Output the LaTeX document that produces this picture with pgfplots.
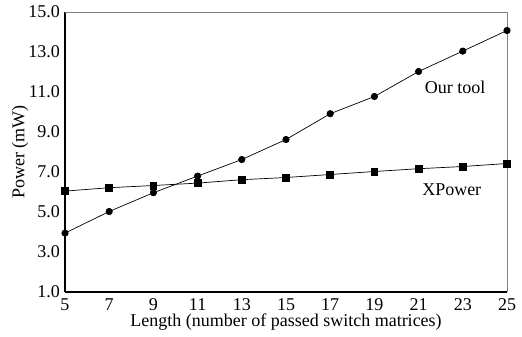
\documentclass[border=0pt]{standalone}
\usepackage{fontspec}
\setmainfont{Liberation Serif}
\usepackage{pgfplots}
\pgfplotsset{compat=1.18}
\begin{document}
\fontsize{18}{20}\selectfont
\begin{tikzpicture}
\begin{axis}[
  scale only axis,
  width=442pt, height=280pt,
  xmin=5, xmax=25, ymin=1, ymax=15,
  xtick={5,7,...,25}, ytick={1,3,...,15},
  major tick length=0pt,
  axis lines*=left,
  separate axis lines,
  axis line style={black, line width=1.4pt, -},
  /pgf/number format/assume math mode=true,
  yticklabel style={xshift=1pt, /pgf/number format/fixed, /pgf/number format/fixed zerofill, /pgf/number format/precision=1},
  ticklabel style={font=\fontsize{18}{20}\selectfont},
  xlabel={Length (number of passed switch matrices)},
  ylabel={Power (mW)},
  label style={font=\fontsize{18}{20}\selectfont},
  xlabel style={at={(axis description cs:0.5,0)}, anchor=center, yshift=-30pt},
  ylabel style={at={(axis description cs:0,0.5)}, anchor=center, rotate=0, yshift=45pt},
  clip=false,
]
\addplot[black, line width=0.7pt, mark=*, mark size=3.2pt] coordinates {
(5,3.95) (7,5.03) (9,5.97) (11,6.80) (13,7.63) (15,8.63) (17,9.92) (19,10.78) (21,12.03) (23,13.05) (25,14.08)};
\addplot[black, line width=0.7pt, mark=square*, mark size=3.4pt] coordinates {
(5,6.05) (7,6.22) (9,6.33) (11,6.45) (13,6.62) (15,6.73) (17,6.88) (19,7.03) (21,7.17) (23,7.28) (25,7.43)};
\node[anchor=center] at (axis cs:22.65,11.25) {Our tool};
\node[anchor=center] at (axis cs:22.5,6.1) {XPower};
\draw[gray, line width=0.8pt] (rel axis cs:0,1) -- (rel axis cs:1,1) -- (rel axis cs:1,0);
\coordinate (sw) at (rel axis cs:0,0);
\coordinate (ne) at (rel axis cs:1,1);
\end{axis}
\path ([xshift=-65pt,yshift=-43pt]sw) ([xshift=15pt,yshift=10pt]ne);
\end{tikzpicture}
\end{document}
